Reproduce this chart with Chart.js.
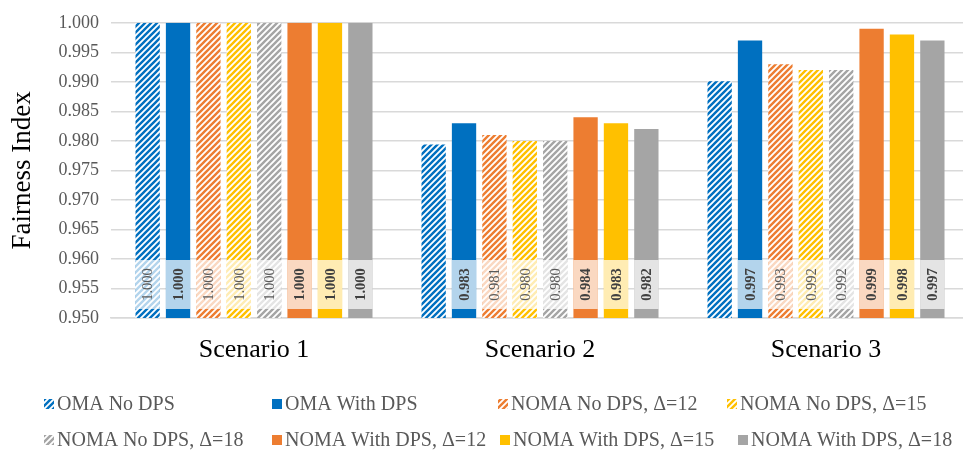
<!DOCTYPE html>
<html>
<head>
<meta charset="utf-8">
<script src="https://cdn.jsdelivr.net/npm/chart.js@4/dist/chart.umd.min.js"></script>
<style>
  html, body { margin: 0; padding: 0; background: #fff; overflow: hidden; }
  #wrap { width: 970px; height: 453px; }
</style>
</head>
<body>
<div id="wrap"><canvas id="chart" width="970" height="453"></canvas></div>
<script>
// Categories and series values
const categories = ['Scenario 1', 'Scenario 2', 'Scenario 3'];
const omaNoDps      = [1.000, 0.9794, 0.9901];
const omaWithDps    = [1.000, 0.983, 0.997];
const nomaNoDps12   = [1.000, 0.981, 0.993];
const nomaNoDps15   = [1.000, 0.980, 0.992];
const nomaNoDps18   = [1.000, 0.980, 0.992];
const nomaWithDps12 = [1.000, 0.984, 0.999];
const nomaWithDps15 = [1.000, 0.983, 0.998];
const nomaWithDps18 = [1.000, 0.982, 0.997];
// Which bars carry a value label
const omaNoDpsLabelled = [true, false, false];
// Value axis
const yMin = 0.950;
const yMax = 1.000;
const yStep = 0.005;

const BLUE = '#0070C0', ORANGE = '#ED7D31', YELLOW = '#FFC000', GREY = '#A5A5A5';
const SERIF = "'Liberation Serif', 'Times New Roman', serif";

// Diagonal stripe fill on white
function hatch(color) {
  const s = 6;
  const c = document.createElement('canvas');
  c.width = s; c.height = s;
  const g = c.getContext('2d');
  g.fillStyle = '#fff';
  g.fillRect(0, 0, s, s);
  g.strokeStyle = color;
  g.lineWidth = 2.4;
  g.lineCap = 'square';
  g.beginPath();
  g.moveTo(0, s); g.lineTo(s, 0);
  g.moveTo(-1, 1); g.lineTo(1, -1);
  g.moveTo(s - 1, s + 1); g.lineTo(s + 1, s - 1);
  g.stroke();
  return g.createPattern(c, 'repeat');
}

const seriesStyle = [];
function series(label, data, color, hatched, labelled) {
  seriesStyle.push({ hatched: hatched, labelled: labelled || data.map(() => true) });
  return {
    label: label,
    data: data,
    backgroundColor: hatched ? hatch(color) : color,
    borderWidth: 0
  };
}

const datasets = [
  series('OMA No DPS', omaNoDps, BLUE, true, omaNoDpsLabelled),
  series('OMA With DPS', omaWithDps, BLUE, false),
  series('NOMA No DPS, \u0394=12', nomaNoDps12, ORANGE, true),
  series('NOMA No DPS, \u0394=15', nomaNoDps15, YELLOW, true),
  series('NOMA No DPS, \u0394=18', nomaNoDps18, GREY, true),
  series('NOMA With DPS, \u0394=12', nomaWithDps12, ORANGE, false),
  series('NOMA With DPS, \u0394=15', nomaWithDps15, YELLOW, false),
  series('NOMA With DPS, \u0394=18', nomaWithDps18, GREY, false)
];

// Value labels near the axis floor, on a translucent white plate
const valueLabels = {
  id: 'valueLabels',
  afterDatasetsDraw(chart) {
    const ctx = chart.ctx;
    const floor = chart.scales.y.getPixelForValue(yMin);
    chart.data.datasets.forEach((ds, i) => {
      const st = seriesStyle[i];
      const meta = chart.getDatasetMeta(i);
      meta.data.forEach((bar, j) => {
        if (!st.labelled[j]) return;
        const w = bar.width;
        const left = bar.x - w / 2;
        const bottom = floor - 9;
        const top = floor - 58;
        ctx.save();
        ctx.fillStyle = 'rgba(255,255,255,0.7)';
        ctx.fillRect(left, top, w, bottom - top);
        ctx.translate(bar.x, (top + bottom) / 2);
        ctx.rotate(-Math.PI / 2);
        ctx.fillStyle = st.hatched ? '#595959' : '#404040';
        ctx.font = (st.hatched ? '' : 'bold ') + '14.5px ' + SERIF;
        ctx.textAlign = 'center';
        ctx.textBaseline = 'middle';
        ctx.fillText(Number(ds.data[j]).toFixed(3), 0, 1);
        ctx.restore();
      });
    });
  }
};

// Four-column legend under the axis
const gridLegend = {
  id: 'gridLegend',
  afterDraw(chart) {
    const ctx = chart.ctx;
    const cols = [[44, 272, 498, 727], [44, 272, 500, 738]];
    const rows = [404, 440];
    ctx.save();
    ctx.font = '20px ' + SERIF;
    ctx.textBaseline = 'middle';
    ctx.textAlign = 'left';
    chart.data.datasets.forEach((ds, i) => {
      const r = Math.floor(i / 4), c = i % 4;
      const x = cols[r][c], y = rows[r];
      ctx.fillStyle = ds.backgroundColor;
      ctx.fillRect(x, y - 5, 10, 10);
      ctx.fillStyle = '#595959';
      ctx.fillText(ds.label, x + 13, y + 1);
    });
    ctx.restore();
  }
};

new Chart(document.getElementById('chart'), {
  type: 'bar',
  data: { labels: categories, datasets: datasets },
  plugins: [valueLabels, gridLegend],
  options: {
    responsive: false,
    animation: false,
    layout: { padding: { top: 18, left: 0, right: 1, bottom: 85 } },
    datasets: { bar: { categoryPercentage: 0.85, barPercentage: 0.8 } },
    plugins: { legend: { display: false }, tooltip: { enabled: false } },
    scales: {
      x: {
        grid: { display: false, drawTicks: false },
        border: { display: true, color: '#D9D9D9', width: 1.5 },
        ticks: { color: '#000', font: { family: SERIF, size: 26 }, padding: 17 },
        afterFit(scale) { scale.height = 50; }
      },
      y: {
        min: yMin, max: yMax,
        grid: { color: '#D9D9D9', lineWidth: 1.5, drawTicks: false },
        border: { display: false },
        ticks: {
          stepSize: yStep,
          color: '#595959',
          font: { family: SERIF, size: 18 },
          padding: 12,
          callback: v => v.toFixed(3)
        },
        title: {
          display: true,
          text: 'Fairness Index',
          color: '#000',
          font: { family: SERIF, size: 27 },
          padding: { top: 7, bottom: 0 }
        },
        afterFit(scale) { scale.width = 111; }
      }
    }
  }
});
</script>
</body>
</html>
